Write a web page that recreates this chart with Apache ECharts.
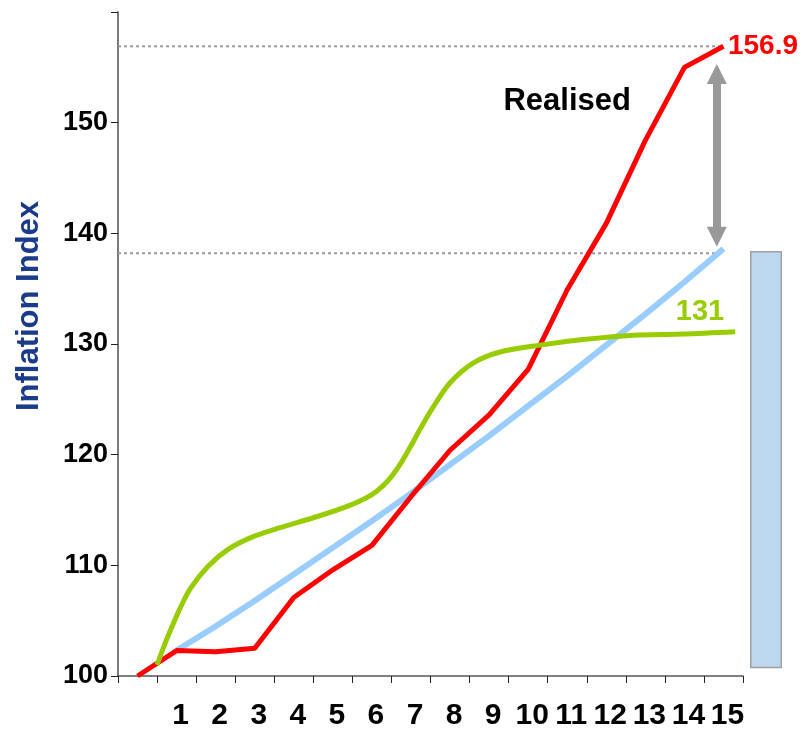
<!DOCTYPE html>
<html>
<head>
<meta charset="utf-8">
<script src="https://cdn.jsdelivr.net/npm/echarts@6/dist/echarts.min.js"></script>
<style>
  html, body { margin: 0; padding: 0; background: #fff; }
  #chart { width: 808px; height: 742px; }
</style>
</head>
<body>
<div id="chart"></div>
<script>
// categories along the bottom axis (first slot has no label)
const categories = ['', '1', '2', '3', '4', '5', '6', '7', '8', '9', '10', '11', '12', '13', '14', '15']

// realised inflation index (red)
const realised = [100.0, 102.3, 102.2, 102.5, 107.1, 109.6, 111.8, 116.2, 120.4, 123.6, 127.7, 134.9, 140.9, 148.4, 155.0, 156.9]
// expected path (light blue), starts at period 1
const expected = ['-', 102.3, 104.5, 106.8, 109.2, 111.6, 114.0, 116.5, 119.1, 121.7, 124.4, 127.1, 129.9, 132.7, 135.6, 138.6]

// green s-curve, x in period units measured from the axis origin
const curveX = [1.0, 1.2, 1.4, 1.6, 1.85, 2.3, 2.8, 3.4, 4.15, 5.0, 5.85, 6.5, 6.9, 7.2, 7.5, 7.75, 8.05, 8.5, 9.1, 9.8, 10.8, 11.9, 13.2, 14.5, 15.8]
const curveY = [101.0, 102.9, 104.6, 106.2, 107.9, 109.9, 111.4, 112.5, 113.4, 114.3, 115.3, 116.4, 117.6, 119.0, 120.8, 122.4, 124.2, 126.5, 128.3, 129.3, 129.9, 130.4, 130.8, 130.9, 131.1]

// y axis
const yMin = 100
const yMax = 160
const yStep = 10

// reference levels / annotations
const realisedEnd = 156.9
const expectedEnd = 138.2
const lineEndX = 15.5
const arrowX = 15.33
const arrowFrom = 139.7
const arrowTo = 154.4
const bandLow = 100.7
const bandHigh = 138.4
const curveLabel = '131'

const font = 'Arial, "Liberation Sans", sans-serif'
const chart = echarts.init(document.getElementById('chart'))

const dotted = { color: '#9a9a9a', width: 2, type: [3, 3] }

chart.setOption({
  animation: false,
  grid: [
    { left: 118, right: 65, top: 12, bottom: 66 },
    { left: 750, width: 32, top: 12, bottom: 66 },
  ],
  xAxis: [
    {
      type: 'category',
      gridIndex: 0,
      data: categories,
      boundaryGap: true,
      axisLine: { lineStyle: { color: '#555', width: 1.5 } },
      axisTick: { show: true, interval: 0, length: 7, lineStyle: { color: '#222' } },
      axisLabel: { interval: 0, margin: 25, color: '#000', fontSize: 30, fontWeight: 'bold', fontFamily: font, padding: [0, 0, 0, 8] },
    },
    { type: 'value', gridIndex: 0, min: 0, max: 16, show: false },
    { type: 'category', gridIndex: 1, data: ['band'], show: false },
  ],
  yAxis: [
    {
      type: 'value',
      gridIndex: 0,
      min: yMin,
      max: yMax,
      interval: yStep,
      name: 'Inflation Index',
      nameLocation: 'middle',
      nameGap: 73,
      nameTextStyle: { color: '#1a3a8a', fontSize: 31, fontWeight: 'bold', fontFamily: font, padding: [0, 0, 0, 76] },
      axisLine: { show: true, lineStyle: { color: '#7a7a7a', width: 2 } },
      axisTick: { show: true, length: 7, lineStyle: { color: '#222' } },
      splitLine: { show: false },
      axisLabel: {
        margin: 10,
        color: '#000',
        fontSize: 27,
        fontWeight: 'bold',
        fontFamily: font,
        formatter: (v) => (v >= yMax ? '' : String(v)),
      },
    },
    { type: 'value', gridIndex: 1, min: yMin, max: yMax, show: false },
  ],
  series: [
    {
      name: 'gapTop',
      type: 'line',
      xAxisIndex: 1,
      yAxisIndex: 0,
      data: [[0, realisedEnd], [lineEndX, realisedEnd]],
      symbol: 'none',
      lineStyle: dotted,
      silent: true,
      z: 1,
      markLine: {
        silent: true,
        symbol: ['triangle', 'triangle'],
        symbolSize: 20,
        label: { show: false },
        itemStyle: { color: '#999' },
        lineStyle: { color: '#999', width: 8, type: 'solid' },
        data: [[{ coord: [arrowX, arrowFrom] }, { coord: [arrowX, arrowTo] }]],
      },
      markPoint: {
        silent: true,
        symbol: 'circle',
        symbolSize: 1,
        itemStyle: { color: 'rgba(0,0,0,0)' },
        data: [
          {
            coord: [11.5, 151.9],
            label: { show: true, position: 'inside', formatter: 'Realised', color: '#000', fontSize: 31, fontWeight: 'bold', fontFamily: font },
          },
          {
            coord: [14.9, 132.9],
            label: { show: true, position: 'inside', formatter: curveLabel, color: '#99cc00', fontSize: 29, fontWeight: 'bold', fontFamily: font },
          },
        ],
      },
    },
    {
      name: 'gapBase',
      type: 'line',
      xAxisIndex: 1,
      yAxisIndex: 0,
      data: [[0, expectedEnd], [lineEndX, expectedEnd]],
      symbol: 'none',
      lineStyle: dotted,
      silent: true,
      z: 1,
    },
    {
      name: 'Expected',
      type: 'line',
      xAxisIndex: 0,
      yAxisIndex: 0,
      data: expected,
      symbol: 'none',
      lineStyle: { color: '#99ccff', width: 6 },
      z: 2,
    },
    {
      name: 'Realised',
      type: 'line',
      xAxisIndex: 0,
      yAxisIndex: 0,
      data: realised,
      symbol: 'none',
      lineStyle: { color: '#ff0000', width: 5 },
      z: 3,
      markPoint: {
        silent: true,
        symbol: 'circle',
        symbolSize: 1,
        itemStyle: { color: 'rgba(0,0,0,0)' },
        data: [
          {
            coord: [categories.length - 1, realised[realised.length - 1]],
            label: { show: true, position: 'right', distance: 4, formatter: String(realisedEnd), color: '#ff0000', fontSize: 28, fontWeight: 'bold', fontFamily: font },
          },
        ],
      },
    },
    {
      name: 'Curve',
      type: 'line',
      xAxisIndex: 1,
      yAxisIndex: 0,
      data: curveX.map((x, i) => [x, curveY[i]]),
      symbol: 'none',
      smooth: 0.3,
      lineStyle: { color: '#99cc00', width: 5 },
      z: 4,
    },
    {
      name: 'bandBase',
      type: 'bar',
      xAxisIndex: 2,
      yAxisIndex: 1,
      stack: 'band',
      data: [bandLow],
      barWidth: '100%',
      itemStyle: { color: 'rgba(0,0,0,0)' },
      silent: true,
    },
    {
      name: 'band',
      type: 'bar',
      xAxisIndex: 2,
      yAxisIndex: 1,
      stack: 'band',
      data: [+(bandHigh - bandLow).toFixed(1)],
      barWidth: '100%',
      itemStyle: { color: '#bdd7ee', borderColor: '#a0a0a0', borderWidth: 1.5 },
      silent: true,
    },
  ],
})

window.addEventListener('resize', () => chart.resize())
</script>
</body>
</html>
